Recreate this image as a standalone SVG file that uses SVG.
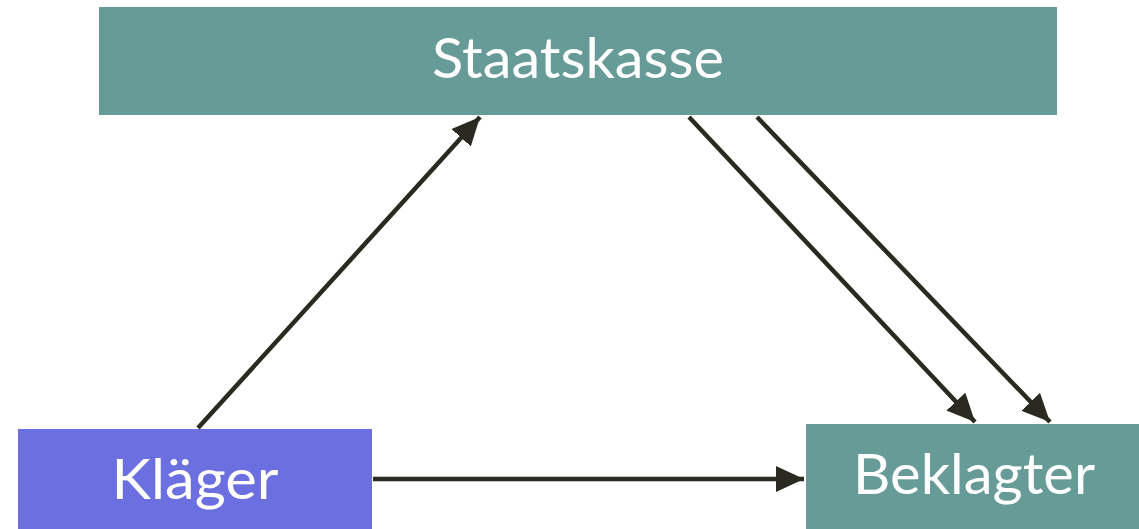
<svg xmlns="http://www.w3.org/2000/svg" width="1139" height="529" viewBox="0 0 1139 529">
  <style>
    .teal { fill: #679b98; }
    .violet { fill: #6b6fe0; }
    .label { fill: #ffffff; font-family: "Lato", "Noto Sans", "Liberation Sans", sans-serif; font-size: 56px; text-anchor: middle; }
    .link { stroke: #2b2a20; stroke-width: 4.5; fill: none; marker-end: url(#head); }
  </style>
  <defs>
    <marker id="head" markerUnits="userSpaceOnUse" markerWidth="30" markerHeight="28" refX="28" refY="13" orient="auto">
      <path d="M0,0 L28,13 L0,26 Z" fill="#2b2a20"/>
    </marker>
  </defs>

  <rect width="1139" height="529" fill="#ffffff"/>

  <g id="staatskasse">
    <rect class="teal" x="99" y="7" width="958" height="108"/>
    <text class="label" x="578" y="78" textLength="292" lengthAdjust="spacingAndGlyphs">Staatskasse</text>
  </g>

  <g id="klaeger">
    <rect class="violet" x="18" y="429" width="354" height="100"/>
    <text class="label" x="195" y="499" textLength="167" lengthAdjust="spacingAndGlyphs">Kläger</text>
  </g>

  <g id="beklagter">
    <rect class="teal" x="806" y="424" width="333" height="105"/>
    <text class="label" x="974" y="494" textLength="242" lengthAdjust="spacingAndGlyphs">Beklagter</text>
  </g>

  <g id="connectors">
    <line class="link" x1="198" y1="428" x2="480" y2="117"/>
    <line class="link" x1="689" y1="117" x2="975" y2="422"/>
    <line class="link" x1="757" y1="117" x2="1050" y2="422"/>
    <line class="link" x1="373" y1="479" x2="804" y2="479"/>
  </g>
</svg>
